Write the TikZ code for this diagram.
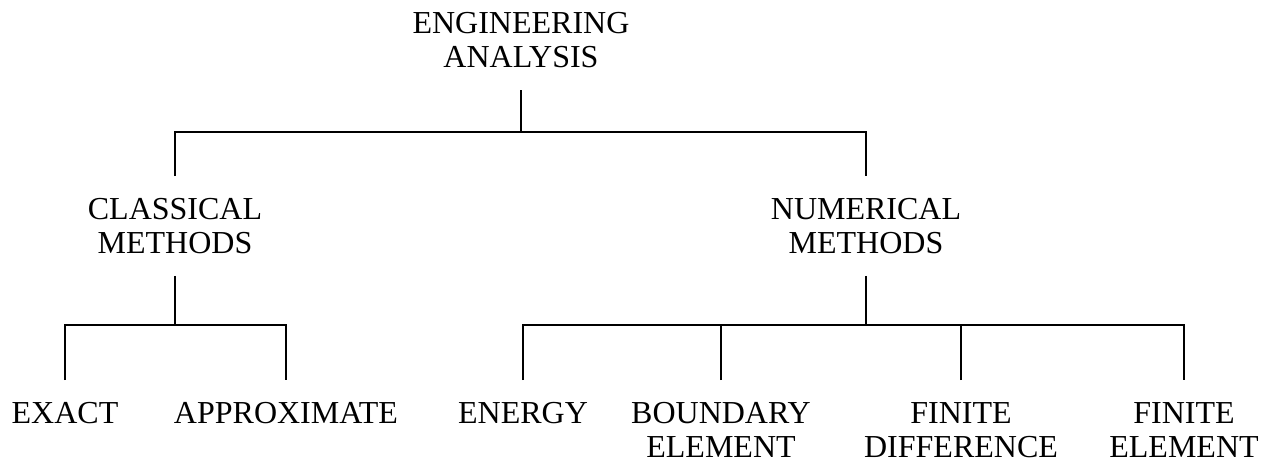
\documentclass[tikz,border=0pt]{standalone}
\usepackage{fontspec}
\setmainfont{Liberation Serif}
\begin{document}
\begin{tikzpicture}[x=1pt,y=-1pt,
  term/.style={align=center,inner xsep=0pt,inner ysep=22pt,
    font=\fontsize{32}{34}\selectfont},
  wire/.style={line width=1.2pt}]
\useasboundingbox (0,0) rectangle (1274,463);

% tree levels
\node[term,anchor=south] (ea) at (521,90) {ENGINEERING\\ANALYSIS};
\node[term,anchor=north] (cm) at (175,176) {CLASSICAL\\METHODS};
\node[term,anchor=north] (nm) at (866,176) {NUMERICAL\\METHODS};
\node[term,anchor=north] (ex) at (65,380) {EXACT};
\node[term,anchor=north] (ap) at (286,380) {APPROXIMATE};
\node[term,anchor=north] (en) at (523,380) {ENERGY};
\node[term,anchor=north] (be) at (721,380) {BOUNDARY\\ELEMENT};
\node[term,anchor=north] (fd) at (961,380) {FINITE\\DIFFERENCE};
\node[term,anchor=north] (fe) at (1184,380) {FINITE\\ELEMENT};

% bus lines
\coordinate (b0) at (521,132);
\coordinate (b1) at (175,325);
\coordinate (b2) at (866,325);

\draw[wire] (ea.south) -- (b0);
\draw[wire] (cm.north) -- (cm.north |- b0) -- (nm.north |- b0) -- (nm.north);

\draw[wire] (cm.south) -- (b1);
\draw[wire] (ex.north) -- (ex.north |- b1) -- (ap.north |- b1) -- (ap.north);

\draw[wire] (nm.south) -- (b2);
\draw[wire] (en.north) -- (en.north |- b2) -- (fe.north |- b2) -- (fe.north);
\draw[wire] (be.north) -- (be.north |- b2);
\draw[wire] (fd.north) -- (fd.north |- b2);
\end{tikzpicture}
\end{document}
